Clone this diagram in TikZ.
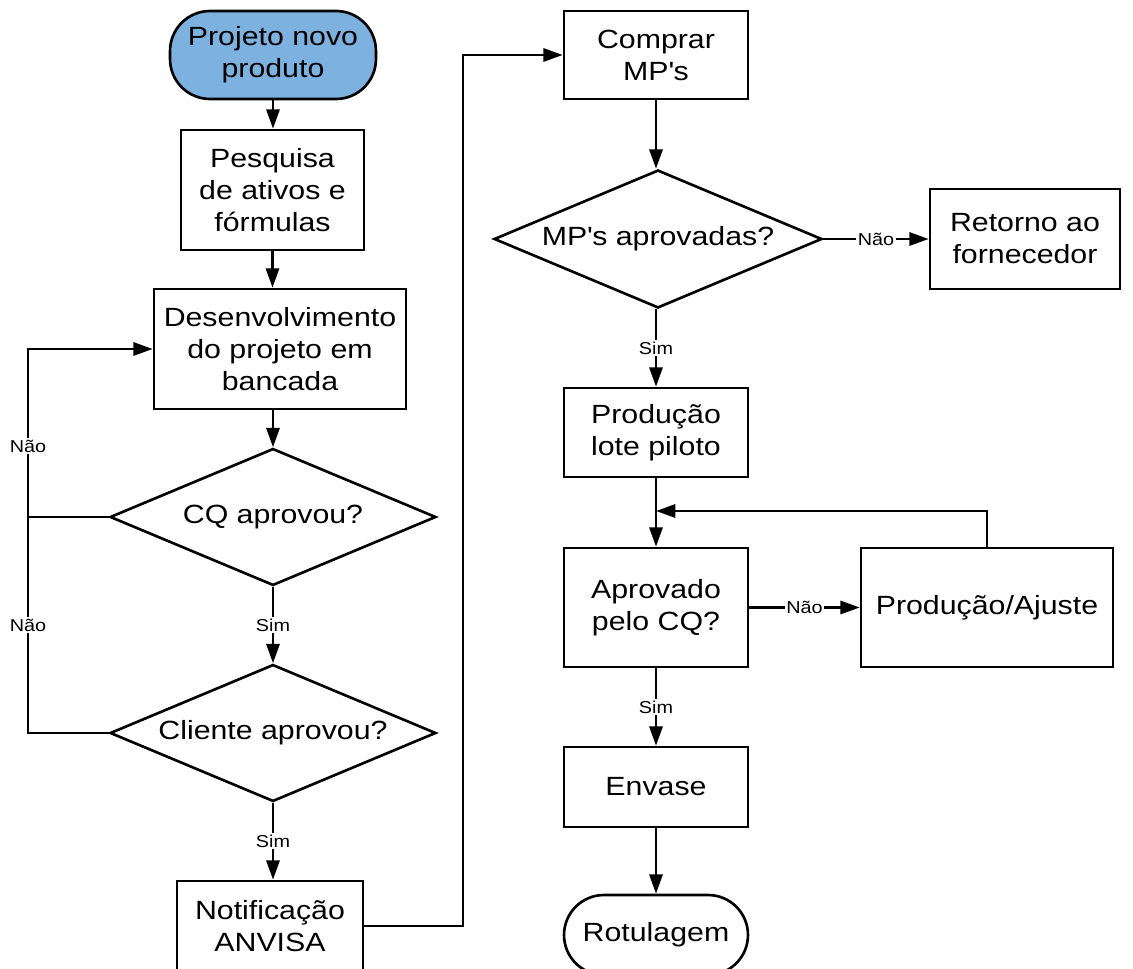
\documentclass[tikz,border=0pt]{standalone}
\usepackage{fontspec}
\setmainfont[FakeStretch=1.15]{Liberation Sans}
\usetikzlibrary{shapes.geometric,arrows.meta}
\definecolor{azul}{RGB}{125,178,224}
\tikzset{
  caixa/.style={draw, line width=1.5pt, align=center, inner sep=2pt,
    font=\fontsize{15}{18.2}\selectfont},
  terminal/.style={caixa, rounded corners=0.8cm},
  decisao/.style={caixa, diamond, aspect=2.4, inner sep=0pt},
  rotulo/.style={fill=white, inner sep=1pt, font=\fontsize{9.8}{11}\selectfont}
}
\begin{document}
\begin{tikzpicture}[>={Triangle[length=11pt,width=7.5pt]}, x=0.02cm, y=-0.02cm, line width=1.5pt]
\useasboundingbox (0,0) rectangle (1133,969);
% coluna da esquerda
\node[terminal, fill=azul, minimum width=4.12cm, minimum height=1.76cm] (inicio) at (273,55) {Projeto novo\\produto};
\node[caixa, minimum width=3.66cm, minimum height=2.4cm] (pesquisa) at (272.5,190) {Pesquisa\\de ativos e\\fórmulas};
\node[caixa, minimum width=5.04cm, minimum height=2.4cm] (bancada) at (280,349) {Desenvolvimento\\do projeto em\\bancada};
\node[decisao, minimum width=6.52cm, minimum height=2.74cm] (cq) at (273,517) {CQ aprovou?};
\node[decisao, minimum width=6.52cm, minimum height=2.74cm] (cliente) at (273,733) {Cliente aprovou?};
\node[caixa, minimum width=3.72cm, minimum height=1.8cm] (anvisa) at (270,926) {Notificação\\ANVISA};
% coluna da direita
\node[caixa, minimum width=3.68cm, minimum height=1.76cm] (comprar) at (656,55) {Comprar\\MP\textquotesingle s};
\node[decisao, minimum width=6.56cm, minimum height=2.76cm] (mp) at (658,239) {MP\textquotesingle s aprovadas?};
\node[caixa, minimum width=3.8cm, minimum height=2cm] (retorno) at (1025,239) {Retorno ao\\fornecedor};
\node[caixa, minimum width=3.68cm, minimum height=1.78cm] (piloto) at (656,432.5) {Produção\\lote piloto};
\node[caixa, minimum width=3.68cm, minimum height=2.38cm] (aprovado) at (656,607.5) {Aprovado\\pelo CQ?};
\node[caixa, minimum width=5.04cm, minimum height=2.38cm] (ajuste) at (987,607.5) {Produção/Ajuste};
\node[caixa, minimum width=3.68cm, minimum height=1.6cm] (envase) at (656,787) {Envase};
\node[terminal, minimum width=3.68cm, minimum height=1.6cm] (rotulagem) at (656,935) {Rotulagem};
\coordinate (esq) at (28,0);
\coordinate (meio) at (463,0);
\coordinate (volta) at (656,511);

\draw[->] (inicio.south) -- (inicio.south |- pesquisa.north);
\draw[->] (pesquisa.south) -- (pesquisa.south |- bancada.north);
\draw[->] (cq.north |- bancada.south) -- (cq.north);
\draw[->] (cq.south) -- node[rotulo]{Sim} (cliente.north);
\draw[->] (cliente.south) -- node[rotulo]{Sim} (cliente.south |- anvisa.north);
\draw[->] (cq.west) -- (cq.west -| esq) |- node[rotulo, pos=0.21]{Não} (bancada.west);
\draw (cliente.west) -| node[rotulo, pos=0.75]{Não} (cq.west -| esq);
\draw[->] (anvisa.east) -- (anvisa.east -| meio) |- (comprar.west);

\draw[->] (comprar.south) -- (comprar.south |- mp.north);
\draw[->] (mp.east) -- node[rotulo]{Não} (retorno.west);
\draw[->] (comprar.south |- mp.south) -- node[rotulo]{Sim} (piloto.north);
\draw[->] (piloto) -- (aprovado);
\draw[->] (ajuste.north) |- (volta);
\draw[->] (aprovado) -- node[rotulo]{Não} (ajuste);
\draw[->] (aprovado) -- node[rotulo]{Sim} (envase);
\draw[->] (envase) -- (rotulagem);

\end{tikzpicture}
\end{document}
